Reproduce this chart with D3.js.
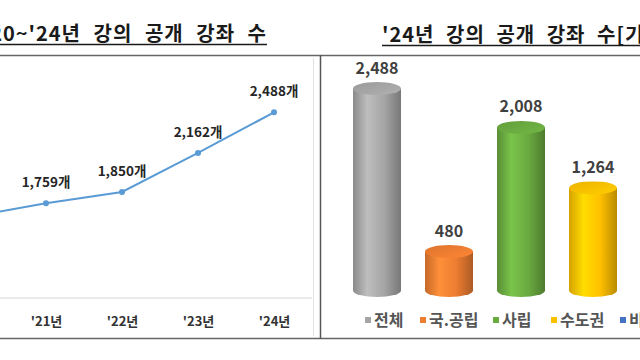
<!DOCTYPE html>
<meta charset="utf-8">
<script src="https://cdn.jsdelivr.net/npm/d3@7"></script>
<style>
  body { margin: 0; background: #fff; }
  text { font-family: "Noto Sans CJK KR", "Noto Sans", sans-serif; }
</style>
<div id="wrapper"></div>
<script>
  // Data
  const years = ["'20년", "'21년", "'22년", "'23년", "'24년"];
  const yearCounts = [1650, 1759, 1850, 2162, 2488];
  const groups = ["전체", "국.공립", "사립", "수도권", "비수도권"];
  const groupCounts = [2488, 480, 2008, 1264, 1224];
  const groupColors = ["#a5a5a5", "#ed7d31", "#6aaa40", "#ffc000", "#4472c4"];

  const width = 640, height = 360;

  const svg = d3.select("#wrapper")
    .append("svg")
    .attr("width", width)
    .attr("height", height);

  const defs = svg.append("defs");

  // panel frames
  svg.append("line").attr("x1", 0).attr("x2", 640).attr("y1", 55.5).attr("y2", 55.5)
    .attr("stroke", "#666").attr("stroke-width", 1.5);
  svg.append("line").attr("x1", 0).attr("x2", 640).attr("y1", 338.5).attr("y2", 338.5)
    .attr("stroke", "#666").attr("stroke-width", 1.5);
  svg.append("line").attr("x1", 320.5).attr("x2", 320.5).attr("y1", 55).attr("y2", 339)
    .attr("stroke", "#555").attr("stroke-width", 1.5);
  svg.append("line").attr("x1", 313.5).attr("x2", 313.5).attr("y1", 58).attr("y2", 336)
    .attr("stroke", "#e2e2e2").attr("stroke-width", 1);

  // titles
  svg.append("text")
    .attr("x", 267).attr("y", 41)
    .attr("text-anchor", "end")
    .attr("font-size", 20).attr("font-weight", 700).attr("fill", "#1a1a1a")
    .attr("letter-spacing", 1).attr("word-spacing", 7)
    .text("'20~'24년 강의 공개 강좌 수");
  svg.append("line").attr("x1", 0).attr("x2", 267).attr("y1", 44.5).attr("y2", 44.5)
    .attr("stroke", "#1a1a1a").attr("stroke-width", 1.5);

  svg.append("text")
    .attr("x", 382).attr("y", 42)
    .attr("font-size", 20).attr("font-weight", 700).attr("fill", "#1a1a1a")
    .attr("letter-spacing", 1).attr("word-spacing", 6)
    .text("'24년 강의 공개 강좌 수[기관별]");
  svg.append("line").attr("x1", 382).attr("x2", 640).attr("y1", 45.5).attr("y2", 45.5)
    .attr("stroke", "#1a1a1a").attr("stroke-width", 1.5);

  // ---------- left: line chart ----------
  const x = d3.scalePoint().domain(years).range([-30, 274]);
  const y = d3.scaleLinear().domain([1000, 2500]).range([298, 110.8]);

  svg.append("line").attr("x1", 0).attr("x2", 312).attr("y1", y(1000)).attr("y2", y(1000))
    .attr("stroke", "#e3e3e3").attr("stroke-width", 1.5);

  const xAxis = svg.append("g")
    .attr("transform", `translate(0, ${y(1000)})`)
    .call(d3.axisBottom(x).tickSize(0).tickPadding(19)
      .tickValues(years.filter(d => x(d) >= 0)));
  xAxis.select(".domain").remove();
  xAxis.selectAll("text")
    .attr("font-size", 13).attr("font-weight", 700).attr("fill", "#333")
    .style("font-family", "\"Noto Sans CJK KR\", sans-serif");

  const lineData = years.map((d, i) => ({ year: d, v: yearCounts[i] }));

  svg.append("path")
    .datum(lineData)
    .attr("fill", "none")
    .attr("stroke", "#5b9bd5")
    .attr("stroke-width", 2)
    .attr("d", d3.line().x(d => x(d.year)).y(d => y(d.v)));

  svg.append("g").selectAll("circle")
    .data(lineData)
    .join("circle")
    .attr("cx", d => x(d.year))
    .attr("cy", d => y(d.v))
    .attr("r", 3)
    .attr("fill", "#5b9bd5");

  // labels only for points inside the visible frame
  svg.append("g").selectAll("text")
    .data(lineData.filter(d => x(d.year) >= 0))
    .join("text")
    .attr("x", d => x(d.year))
    .attr("y", d => y(d.v) - 16)
    .attr("text-anchor", "middle")
    .attr("font-size", 13.5).attr("font-weight", 700).attr("fill", "#262626")
    .text(d => d3.format(",")(d.v) + "개");

  // ---------- right: cylinder bars ----------
  const xb = d3.scaleBand().domain(groups).range([341, 701])
    .paddingInner(1 / 3).paddingOuter(1 / 6);
  const yb = d3.scaleLinear().domain([0, 2488]).range([290.5, 88.5]);
  const ry = 6.5;

  const barData = groups.map((g, i) => ({ g, v: groupCounts[i], c: groupColors[i], i }));

  barData.forEach(d => {
    const c = d3.color(d.c);
    const grad = defs.append("linearGradient").attr("id", "gb" + d.i)
      .attr("x1", "0%").attr("x2", "100%").attr("y1", "0%").attr("y2", "0%");
    grad.append("stop").attr("offset", "0%").attr("stop-color", c.darker(0.5));
    grad.append("stop").attr("offset", "30%").attr("stop-color", c.brighter(0.4));
    grad.append("stop").attr("offset", "65%").attr("stop-color", c);
    grad.append("stop").attr("offset", "100%").attr("stop-color", c.darker(0.9));
    const gt = defs.append("linearGradient").attr("id", "gt" + d.i)
      .attr("x1", "0%").attr("x2", "100%").attr("y1", "0%").attr("y2", "100%");
    gt.append("stop").attr("offset", "0%").attr("stop-color", c.darker(0.2));
    gt.append("stop").attr("offset", "100%").attr("stop-color", c.brighter(0.2));
  });

  const bars = svg.append("g").selectAll("g")
    .data(barData)
    .join("g");

  bars.append("ellipse")
    .attr("cx", d => xb(d.g) + xb.bandwidth() / 2)
    .attr("cy", yb(0))
    .attr("rx", xb.bandwidth() / 2)
    .attr("ry", ry)
    .attr("fill", d => `url(#gb${d.i})`);

  bars.append("rect")
    .attr("x", d => xb(d.g))
    .attr("y", d => yb(d.v))
    .attr("width", xb.bandwidth())
    .attr("height", d => yb(0) - yb(d.v))
    .attr("fill", d => `url(#gb${d.i})`);

  bars.append("ellipse")
    .attr("cx", d => xb(d.g) + xb.bandwidth() / 2)
    .attr("cy", d => yb(d.v))
    .attr("rx", xb.bandwidth() / 2)
    .attr("ry", ry)
    .attr("fill", d => `url(#gt${d.i})`);

  bars.filter(d => xb(d.g) + xb.bandwidth() / 2 < width)
    .append("text")
    .attr("x", d => xb(d.g) + xb.bandwidth() / 2)
    .attr("y", d => yb(d.v) - 15)
    .attr("text-anchor", "middle")
    .attr("font-size", 16).attr("font-weight", 700).attr("fill", "#404040")
    .text(d => d3.format(",")(d.v));

  // legend
  const legendX = [365, 420, 493, 551, 620];
  const legend = svg.append("g").selectAll("g")
    .data(barData)
    .join("g")
    .attr("transform", d => `translate(${legendX[d.i]}, 320)`);
  legend.append("rect")
    .attr("x", 0).attr("y", -3).attr("width", 6).attr("height", 6)
    .attr("fill", d => d.c);
  legend.append("text")
    .attr("x", 9).attr("y", 6)
    .attr("font-size", 16).attr("font-weight", 700).attr("fill", "#555")
    .text(d => d.g);
</script>
